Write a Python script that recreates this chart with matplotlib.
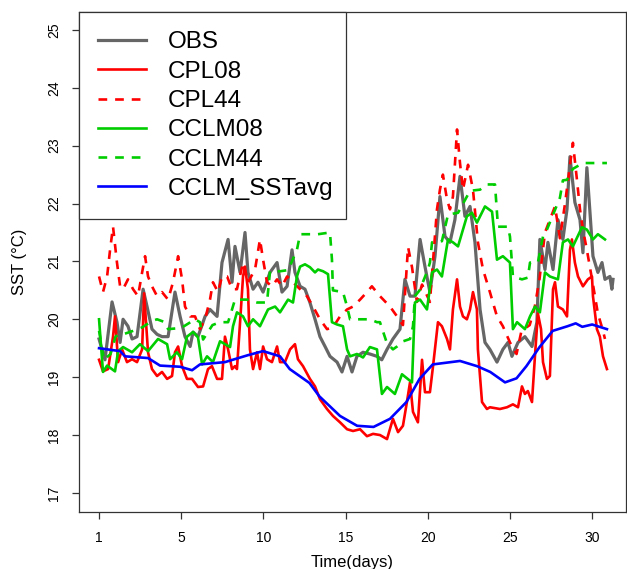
import matplotlib
matplotlib.use("Agg")
import matplotlib.pyplot as plt

plt.rcParams['font.family'] = ['Liberation Sans', 'DejaVu Sans']

# time in days from start, values in degC
obs_t = [0, 0.36, 0.79, 1.09, 1.28, 1.46, 1.76, 2.01, 2.31, 2.68, 2.92, 3.22, 3.53, 3.83, 4.20,
         4.62, 4.93, 5.23, 5.54, 5.72, 6.02, 6.45, 6.75, 7.18, 7.48, 7.85, 8.09, 8.27, 8.58, 8.88,
         9.06, 9.37, 9.67, 9.98, 10.40, 10.83, 11.13, 11.44, 11.74, 11.92, 12.23, 12.53, 12.83,
         13.14, 13.44, 13.75, 14.05, 14.48, 14.78, 15.09, 15.39, 15.69, 16.06, 16.48, 16.91, 17.20,
         17.52, 17.88, 18.31, 18.61, 18.92, 19.22, 19.53, 19.83, 20.13, 20.44, 20.74, 21.05, 21.35,
         21.65, 21.96, 22.26, 22.57, 22.87, 23.18, 23.48, 23.78, 24.21, 24.57, 24.88, 25.12, 25.49,
         25.91, 26.34, 26.64, 26.82, 27.13, 27.31, 27.62, 27.92, 28.22, 28.47, 28.65, 28.95, 29.26,
         29.44, 29.68, 29.87, 30.05, 30.35, 30.60, 30.78, 31.08, 31.20, 31.27]
obs_v = [19.66, 19.30, 20.30, 19.95, 19.60, 20.00, 19.88, 19.66, 19.70, 20.52, 20.22, 19.83, 19.74,
         19.70, 19.70, 20.47, 20.05, 19.70, 19.53, 19.78, 19.70, 20.05, 20.17, 20.05, 20.98, 21.38,
         20.64, 21.26, 20.81, 21.50, 20.81, 20.52, 20.64, 20.47, 20.81, 20.98, 20.47, 20.57, 21.20,
         20.81, 20.57, 20.52, 20.29, 20.00, 19.70, 19.53, 19.36, 19.26, 19.09, 19.36, 19.09, 19.36,
         19.43, 19.40, 19.36, 19.30, 19.48, 19.66, 19.83, 20.69, 20.40, 20.40, 21.38, 20.91, 20.47,
         21.09, 22.12, 21.43, 21.33, 21.72, 22.47, 21.78, 21.95, 21.33, 20.17, 19.60, 19.48, 19.26,
         19.48, 19.60, 19.36, 19.60, 19.70, 19.53, 19.95, 21.38, 20.86, 21.33, 20.86, 21.72, 21.38,
         21.90, 22.81, 22.02, 21.72, 21.15, 22.62, 21.84, 21.09, 20.81, 20.98, 20.69, 20.74, 20.52,
         20.69]

cpl08_t = [0, 0.24, 0.55, 0.85, 0.97, 1.16, 1.40, 1.70, 2.01, 2.31, 2.62, 2.74, 2.98, 3.22, 3.53,
           3.83, 4.14, 4.44, 4.62, 4.81, 5.05, 5.35, 5.66, 6.02, 6.33, 6.63, 6.87, 7.18, 7.48, 7.66,
           7.85, 8.09, 8.27, 8.39, 8.58, 8.76, 8.88, 9.06, 9.18, 9.37, 9.61, 9.79, 9.98, 10.22,
           10.52, 10.83, 11.01, 11.31, 11.62, 11.92, 12.10, 12.41, 12.83, 13.14, 13.44, 13.87,
           14.23, 14.66, 15.09, 15.45, 15.88, 16.30, 16.67, 17.09, 17.52, 17.88, 18.19, 18.49,
           18.73, 18.92, 19.10, 19.40, 19.65, 19.83, 20.13, 20.32, 20.62, 20.86, 21.17, 21.35,
           21.53, 21.78, 21.96, 22.14, 22.38, 22.57, 22.75, 22.99, 23.05, 23.30, 23.60, 23.78,
           24.39, 24.82, 25.18, 25.49, 25.73, 25.91, 26.09, 26.34, 26.52, 26.70, 26.89, 27.01,
           27.25, 27.43, 27.62, 27.74, 27.92, 28.22, 28.47, 28.65, 28.77, 28.95, 29.14, 29.44,
           29.74, 29.99, 30.05, 30.29, 30.47, 30.66, 30.90]
cpl08_v = [19.30, 19.10, 19.14, 19.70, 20.05, 19.26, 19.48, 19.26, 19.31, 19.26, 19.48, 20.45, 19.43,
           19.14, 19.02, 19.09, 18.97, 19.02, 19.43, 19.53, 19.19, 18.97, 18.97, 18.83, 18.84, 19.14,
           19.19, 18.97, 18.97, 19.70, 19.48, 19.14, 19.19, 19.14, 19.95, 20.74, 20.91, 20.52, 19.48,
           19.14, 19.43, 19.14, 19.53, 19.31, 19.26, 19.53, 19.26, 19.26, 19.48, 19.57, 19.31, 19.19,
           18.97, 18.84, 18.62, 18.45, 18.33, 18.22, 18.10, 18.07, 18.10, 17.98, 18.02, 18.00, 17.93,
           18.28, 18.05, 18.16, 18.57, 18.91, 18.40, 18.22, 19.30, 18.74, 18.74, 19.19, 19.95, 19.88,
           19.66, 19.48, 20.17, 20.69, 20.22, 20.05, 20.00, 20.17, 20.47, 20.17, 19.48, 18.57, 18.45,
           18.48, 18.45, 18.48, 18.53, 18.48, 18.84, 18.71, 18.76, 18.57, 19.36, 20.10, 19.83, 19.26,
           18.97, 19.02, 20.52, 20.64, 20.22, 20.17, 20.05, 21.20, 21.38, 20.98, 20.74, 20.57, 20.69,
           20.74, 20.40, 19.83, 19.70, 19.36, 19.14]

cpl44_t = [0, 0.24, 0.49, 0.67, 0.85, 1.09, 1.28, 1.46, 1.76, 2.07, 2.37, 2.62, 2.80, 2.98, 3.22,
           3.53, 3.83, 4.20, 4.50, 4.81, 5.05, 5.23, 5.54, 5.84, 6.14, 6.45, 6.75, 6.93, 7.24, 7.48,
           7.79, 8.09, 8.39, 8.76, 9.06, 9.49, 9.79, 9.98, 10.22, 10.52, 10.83, 11.13, 11.44, 11.80,
           12.23, 12.65, 13.02, 13.44, 13.87, 14.23, 14.66, 15.09, 15.45, 15.88, 16.30, 16.60,
           17.09, 17.70, 18.13, 18.49, 18.80, 19.04, 19.34, 19.65, 20.13, 20.56, 20.74, 20.92,
           21.17, 21.35, 21.53, 21.78, 21.96, 22.14, 22.45, 22.75, 23.05, 23.36, 23.78, 24.21,
           24.57, 25.00, 25.40, 25.70, 26.20, 26.50, 26.80, 27.13, 27.74, 28.04, 28.35, 28.83,
           29.08, 29.26, 29.44, 29.68, 30.05, 30.35, 30.66, 30.78]
cpl44_v = [20.74, 20.47, 20.74, 21.20, 21.60, 20.98, 20.57, 20.52, 20.69, 20.52, 20.40, 20.81, 21.09,
           20.74, 20.57, 20.40, 20.47, 20.34, 20.64, 21.09, 20.69, 20.22, 20.05, 20.05, 19.83, 20.00,
           20.34, 20.64, 20.47, 20.74, 20.74, 20.52, 20.52, 20.98, 20.64, 20.86, 21.38, 21.03, 20.64,
           20.57, 20.69, 20.57, 20.74, 20.64, 20.52, 20.40, 20.22, 20.00, 19.83, 19.86, 20.05, 20.17,
           20.22, 20.34, 20.47, 20.57, 20.40, 20.22, 20.05, 19.90, 21.25, 20.90, 20.30, 20.60, 20.30,
           21.90, 22.24, 22.50, 22.07, 21.90, 22.12, 23.28, 22.70, 22.24, 22.67, 22.24, 21.33, 20.86,
           20.47, 20.05, 19.88, 19.60, 19.40, 19.80, 19.90, 20.20, 20.70, 21.50, 21.95, 21.40, 22.00,
           23.05, 22.40, 21.90, 21.55, 21.20, 20.60, 20.10, 19.80, 19.66]

cclm08_t = [0, 0.24, 0.49, 0.97, 1.16, 1.46, 2.01, 2.49, 2.98, 3.59, 4.14, 4.32, 4.74, 5.05, 5.35,
            5.72, 6.02, 6.27, 6.57, 6.93, 7.36, 7.97, 8.15, 8.39, 8.76, 9.06, 9.37, 9.79, 10.28,
            10.71, 11.01, 11.50, 11.80, 12.04, 12.23, 12.53, 12.83, 13.14, 13.32, 13.63, 13.93,
            14.17, 14.48, 14.84, 15.09, 15.27, 15.69, 16.06, 16.48, 16.91, 17.21, 17.52, 18.00,
            18.43, 19.04, 19.22, 19.53, 19.95, 20.26, 20.56, 20.86, 21.23, 21.53, 21.84, 22.38,
            22.69, 22.99, 23.48, 23.91, 24.21, 24.57, 25.00, 25.18, 25.43, 25.91, 26.22, 26.52,
            26.82, 27.13, 27.43, 27.92, 28.22, 28.53, 28.83, 29.38, 29.68, 30.05, 30.35, 30.78]
cclm08_v = [20.00, 19.09, 19.20, 19.10, 19.45, 19.52, 19.43, 19.57, 19.45, 19.66, 19.57, 19.31, 19.43,
            19.31, 19.70, 19.78, 19.69, 19.22, 19.36, 19.26, 19.62, 19.52, 19.88, 20.12, 20.05, 19.88,
            20.00, 19.88, 20.17, 20.22, 20.12, 20.34, 20.29, 20.74, 20.91, 20.95, 20.90, 20.81, 20.86,
            20.83, 20.78, 19.95, 19.91, 19.88, 19.48, 19.36, 19.40, 19.34, 19.52, 19.48, 18.71, 18.83,
            18.71, 19.05, 18.91, 20.29, 20.34, 20.17, 20.81, 20.86, 20.74, 21.38, 21.33, 21.26, 21.78,
            21.84, 21.67, 21.95, 21.86, 21.03, 21.09, 20.98, 19.83, 19.95, 19.83, 20.05, 20.22, 20.12,
            20.81, 20.74, 20.69, 21.33, 21.38, 21.26, 21.59, 21.55, 21.38, 21.47, 21.38]

cclm44_t = [0, 0.30, 0.70, 1.00, 1.20, 1.46, 2.07, 2.62, 3.22, 3.53, 4.01, 4.20, 5.00, 5.84, 6.14,
            6.33, 6.90, 7.36, 7.85, 8.09, 8.27, 9.00, 9.61, 10.22, 10.40, 11.01, 11.50, 12.04,
            12.23, 12.83, 13.32, 14.05, 14.17, 14.23, 14.84, 15.09, 15.27, 16.06, 16.48, 16.91,
            17.09, 17.50, 17.88, 18.13, 18.50, 18.92, 19.10, 19.22, 19.50, 20.01, 20.13, 20.26,
            20.86, 21.23, 21.84, 22.57, 23.18, 23.60, 24.09, 24.27, 24.88, 25.00, 25.12, 25.18,
            25.73, 26.09, 26.22, 26.70, 27.01, 27.25, 28.04, 28.22, 28.47, 28.83, 29.44, 30.05,
            30.90]
cclm44_v = [19.80, 19.30, 19.40, 19.70, 19.74, 19.74, 19.80, 19.86, 19.97, 20.00, 19.95, 19.83, 19.85,
            20.00, 19.95, 19.65, 19.90, 19.95, 19.95, 20.17, 20.34, 20.34, 20.29, 20.29, 20.83, 20.83,
            20.85, 21.20, 21.47, 21.47, 21.47, 21.50, 21.03, 20.50, 20.47, 20.22, 20.00, 20.00, 20.00,
            19.95, 19.95, 19.60, 19.48, 19.53, 19.62, 19.66, 19.88, 20.40, 20.50, 20.86, 20.98, 21.33,
            21.35, 21.81, 21.84, 22.22, 22.24, 22.33, 22.33, 21.60, 21.60, 21.43, 20.98, 20.74, 20.69,
            20.72, 20.98, 20.98, 21.43, 21.55, 22.10, 22.40, 22.41, 22.60, 22.70, 22.70, 22.70]

sstavg_t = [0, 1.28, 1.58, 2.98, 3.71, 4.93, 5.66, 6.14, 7.66, 9.06, 9.98, 11.01, 11.60, 12.80, 13.40,
            14.66, 15.70, 16.70, 17.70, 18.70, 19.50, 20.30, 21.96, 23.00, 23.80, 24.70, 25.40,
            26.00, 26.80, 27.60, 28.50, 29.00, 29.40, 30.00, 30.90]
sstavg_v = [19.50, 19.45, 19.36, 19.33, 19.20, 19.18, 19.12, 19.22, 19.26, 19.38, 19.45, 19.36, 19.14,
            18.90, 18.67, 18.33, 18.16, 18.14, 18.28, 18.57, 18.97, 19.22, 19.28, 19.19, 19.09, 18.91,
            18.98, 19.19, 19.52, 19.80, 19.88, 19.93, 19.87, 19.91, 19.83]

tick_pos = [0, 5, 10, 15, 20, 25, 30]
tick_labels = ["1", "5", "10", "15", "20", "25", "30"]
yticks = [17, 18, 19, 20, 21, 22, 23, 24, 25]

fig = plt.figure(figsize=(6.27, 5.69), dpi=100)
ax = fig.add_axes([79/627, 57/569, 547/627, 500/569])

dash = (0, (3.3, 3.0))
ax.plot(obs_t, obs_v, color="#666666", lw=2.3, label="OBS")
ax.plot(cpl08_t, cpl08_v, color="#ff0000", lw=1.9, label="CPL08")
ax.plot(cpl44_t, cpl44_v, color="#ff0000", lw=1.9, linestyle=dash, label="CPL44")
ax.plot(cclm08_t, cclm08_v, color="#00cd00", lw=1.9, label="CCLM08")
ax.plot(cclm44_t, cclm44_v, color="#00cd00", lw=1.9, linestyle=dash, label="CCLM44")
ax.plot(sstavg_t, sstavg_v, color="#0000ff", lw=1.9, label="CCLM_SSTavg")

ax.set_xlim(-1.22, 32.06)
ax.set_ylim(16.67, 25.31)
ax.set_xticks(tick_pos)
ax.set_xticklabels(tick_labels)
ax.set_yticks(yticks)
ax.set_yticklabels([str(v) for v in yticks], rotation=90, va="center")
ax.tick_params(axis="both", direction="out", length=5, width=0.9, labelsize=10, color="#333333")
ax.tick_params(axis="x", pad=9)
ax.tick_params(axis="y", pad=8)
for s in ax.spines.values():
    s.set_color("#333333")
    s.set_linewidth(0.9)

ax.set_xlabel("Time(days)", fontsize=12)
ax.set_ylabel("SST (°C)", fontsize=12)
ax.xaxis.set_label_coords(0.5, -0.086)
ax.yaxis.set_label_coords(-0.095, 0.5)

# legend box fixed to the width seen in the reference
leg = ax.legend(loc="upper left", bbox_to_anchor=(0, 1, 267/547, 0), mode="expand",
                fontsize=17.5, frameon=True, fancybox=False, borderaxespad=0,
                borderpad=0.8, labelspacing=0.3, handlelength=1.95, handletextpad=0.9)
leg.get_frame().set_edgecolor("#333333")
leg.get_frame().set_linewidth(0.9)
leg.get_frame().set_alpha(1)

fig.savefig("out.png", dpi=100)
